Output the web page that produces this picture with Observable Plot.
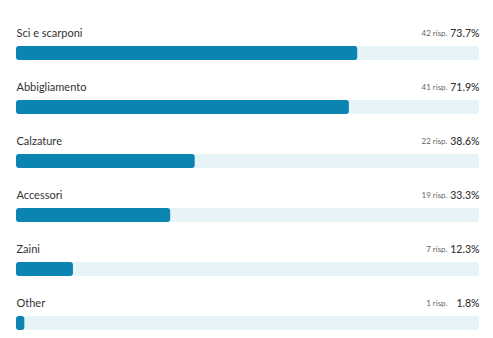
<!DOCTYPE html>
<html>
<head>
<meta charset="utf-8">
<script src="https://cdn.jsdelivr.net/npm/d3@7"></script>
<script src="https://cdn.jsdelivr.net/npm/@observablehq/plot@0.6"></script>
<style>
  html, body { margin: 0; padding: 0; background: #fff; }
  #chart { width: 493px; height: 338px; }
</style>
</head>
<body>
<div id="chart"></div>
<script>
const categories = ["Sci e scarponi", "Abbigliamento", "Calzature", "Accessori", "Zaini", "Other"];
const responses = [42, 41, 22, 19, 7, 1];
const percents = [73.7, 71.9, 38.6, 33.3, 12.3, 1.8];

const data = categories.map((c, i) => ({
  category: c,
  count: responses[i],
  pct: percents[i],
  countLabel: `${responses[i]} risp.`,
  pctLabel: `${percents[i].toFixed(1)}%`
}));

const font = "Lato, 'Open Sans', sans-serif";

const chart = Plot.plot({
  width: 493,
  height: 338,
  marginTop: 14,
  marginBottom: 0,
  marginLeft: 16,
  marginRight: 14,
  style: { fontFamily: font, background: "#fff" },
  x: { domain: [0, 100], axis: null },
  y: { domain: categories, axis: null, padding: 0 },
  marks: [
    Plot.barX(data, { y: "category", x1: 0, x2: 100, fill: "#e6f3f7", insetTop: 32, insetBottom: 8, rx: 3 }),
    Plot.barX(data, { y: "category", x1: 0, x2: "pct", fill: "#0b84b2", insetTop: 32, insetBottom: 8, rx: 3 }),
    Plot.text(data, { y: "category", x: 0, text: "category", textAnchor: "start", dy: -8, fontSize: 11, fill: "#333" }),
    Plot.text(data, { y: "category", x: 100, text: "pctLabel", textAnchor: "end", dy: -8, fontSize: 10.5, fontWeight: 500, fill: "#333" }),
    Plot.text(data, { y: "category", x: 100, text: "countLabel", textAnchor: "end", dx: -32, dy: -8, fontSize: 8, fill: "#666" })
  ]
});
document.getElementById("chart").append(chart);
</script>
</body>
</html>
